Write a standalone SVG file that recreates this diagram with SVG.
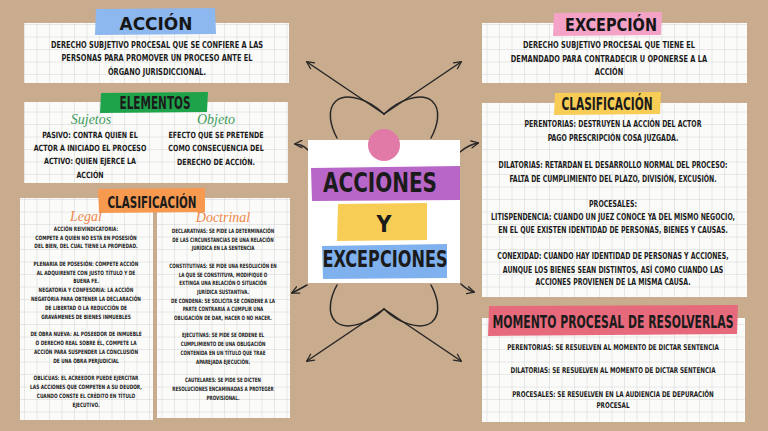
<svg xmlns="http://www.w3.org/2000/svg" width="768" height="431" viewBox="0 0 768 431">
<defs>
<pattern id="grid" width="12.5" height="12.5" patternUnits="userSpaceOnUse">
<rect width="12.5" height="12.5" fill="#fbfbfa"/>
<path d="M12.5 0V12.5M0 12.5H12.5" stroke="#c4c4c4" stroke-width="0.7" fill="none"/>
</pattern>
<marker id="ah" viewBox="0 0 10 10" refX="8.5" refY="5" markerWidth="6" markerHeight="6" orient="auto">
<path d="M1 1L9 5L1 9" fill="none" stroke="#262626" stroke-width="1.4" stroke-linecap="round" stroke-linejoin="round"/>
</marker>
</defs>
<style>
.b{font-family:"DejaVu Sans Condensed","DejaVu Sans",sans-serif;font-stretch:condensed;font-weight:bold;fill:#1b1b1b;text-anchor:middle}
.t{font-family:"DejaVu Sans","Liberation Sans",sans-serif;font-weight:bold;fill:#161616;text-anchor:middle}
.card{fill:url(#grid)}
.ln{fill:none;stroke:#262626;stroke-width:1.5;stroke-linecap:round}
.scr{font-family:"Liberation Serif","DejaVu Serif",serif;font-style:italic;text-anchor:middle;font-size:14px}
</style>
<rect width="768" height="431" fill="#c9ab8e"/>

<g id="connectors">
<path class="ln" d="M384 114L307 62" marker-end="url(#ah)"/>
<path class="ln" d="M384 114C370 100 347 92 336 101C326 110 331 127 337 138"/>
<path class="ln" d="M384 114L461 62" marker-end="url(#ah)"/>
<path class="ln" d="M384 114C398 100 421 92 432 101C442 110 437 127 431 138"/>
<path class="ln" d="M384 309L307 361" marker-end="url(#ah)"/>
<path class="ln" d="M384 309C370 323 347 331 336 322C326 313 331 296 337 285"/>
<path class="ln" d="M384 309L461 361" marker-end="url(#ah)"/>
<path class="ln" d="M384 309C398 323 421 331 432 322C442 313 437 296 431 285"/>
<path class="ln" d="M308 150Q302 144 295 144" marker-end="url(#ah)"/>
<path class="ln" d="M460 152Q468 145 478 143" marker-end="url(#ah)"/>
<path class="ln" d="M307 285Q300 289 292 293" marker-end="url(#ah)"/>
<path class="ln" d="M461 284Q467 290 474 292" marker-end="url(#ah)"/>
</g>

<g id="accion">
<rect class="card" x="24" y="23" width="265" height="60"/>
<path d="M96 9L215 8L216 34L95 35Z" fill="#8db7ef"/>
<text class="t" x="156" y="30" font-size="18" textLength="73" lengthAdjust="spacingAndGlyphs">ACCIÓN</text>
<g transform="translate(157 0) scale(0.82 1)" font-size="9">
<text class="b" x="0" y="48">DERECHO SUBJETIVO PROCESAL QUE SE CONFIERE A LAS</text>
<text class="b" x="0" y="61">PERSONAS PARA PROMOVER UN PROCESO ANTE EL</text>
<text class="b" x="0" y="75">ÓRGANO JURISDICCIONAL.</text>
</g>
</g>

<g id="elementos">
<rect class="card" x="24" y="102" width="264" height="81"/>
<path d="M101 93L208 92L207 112L100 113Z" fill="#1ea34b"/>
<text class="b" x="155" y="109" font-size="17" textLength="71" lengthAdjust="spacingAndGlyphs">ELEMENTOS</text>
<text class="scr" x="91" y="124" fill="#3d9b5c">Sujetos</text>
<text class="scr" x="216" y="124" fill="#3d9b5c">Objeto</text>
<g transform="translate(90 0) scale(0.83 1)" font-size="8.5">
<text class="b" x="0" y="138">PASIVO: CONTRA QUIEN EL</text>
<text class="b" x="0" y="151">ACTOR A INICIADO EL PROCESO</text>
<text class="b" x="0" y="164">ACTIVO: QUIEN EJERCE LA</text>
<text class="b" x="0" y="178">ACCIÓN</text>
</g>
<g transform="translate(216 0) scale(0.83 1)" font-size="8.5">
<text class="b" x="0" y="138">EFECTO QUE SE PRETENDE</text>
<text class="b" x="0" y="151">COMO CONSECUENCIA DEL</text>
<text class="b" x="0" y="165">DERECHO DE ACCIÓN.</text>
</g>
</g>

<g id="clasificacion-accion">
<rect class="card" x="20" y="198" width="133" height="222"/>
<rect class="card" x="157" y="198" width="133" height="220"/>
<path d="M98 189L205 188L205 212L99 213Z" fill="#f79a50"/>
<text class="b" x="152" y="208" font-size="15" textLength="89" lengthAdjust="spacingAndGlyphs">CLASIFICACIÓN</text>
<text class="scr" x="86" y="221" fill="#f0884a">Legal</text>
<text class="scr" x="223" y="222" fill="#f0884a">Doctrinal</text>
<g transform="translate(86 0) scale(0.8 1)" font-size="6">
<text class="b" x="0" y="231">ACCIÓN REIVINDICATORIA:</text>
<text class="b" x="0" y="240">COMPETE A QUIEN NO ESTÁ EN POSESIÓN</text>
<text class="b" x="0" y="248">DEL BIEN, DEL CUAL TIENE LA PROPIEDAD.</text>
<text class="b" x="0" y="266">PLENARIA DE POSESIÓN: COMPETE ACCIÓN</text>
<text class="b" x="0" y="275">AL ADQUIRENTE CON JUSTO TÍTULO Y DE</text>
<text class="b" x="0" y="283">BUENA FE.</text>
<text class="b" x="0" y="292">NEGATORIA Y CONFESORIA: LA ACCIÓN</text>
<text class="b" x="0" y="301">NEGATORIA PARA OBTENER LA DECLARACIÓN</text>
<text class="b" x="0" y="310">DE LIBERTAD O LA REDUCCIÓN DE</text>
<text class="b" x="0" y="319">GRAVÁMENES DE BIENES INMUEBLES</text>
<text class="b" x="0" y="336">DE OBRA NUEVA: AL POSEEDOR DE INMUEBLE</text>
<text class="b" x="0" y="345">O DERECHO REAL SOBRE ÉL, COMPETE LA</text>
<text class="b" x="0" y="354">ACCIÓN PARA SUSPENDER LA CONCLUSIÓN</text>
<text class="b" x="0" y="363">DE UNA OBRA PERJUDICIAL</text>
<text class="b" x="0" y="380">OBLICUAS: EL ACREEDOR PUEDE EJERCITAR</text>
<text class="b" x="0" y="389">LAS ACCIONES QUE COMPETEN A SU DEUDOR,</text>
<text class="b" x="0" y="398">CUANDO CONSTE EL CRÉDITO EN TÍTULO</text>
<text class="b" x="0" y="407">EJECUTIVO.</text>
</g>
<g transform="translate(223 0) scale(0.76 1)" font-size="6">
<text class="b" x="0" y="233">DECLARATIVAS: SE PIDE LA DETERMINACIÓN</text>
<text class="b" x="0" y="242">DE LAS CIRCUNSTANCIAS DE UNA RELACIÓN</text>
<text class="b" x="0" y="250">JURÍDICA EN LA SENTENCIA</text>
<text class="b" x="0" y="268">CONSTITUTIVAS: SE PIDE UNA RESOLUCIÓN EN</text>
<text class="b" x="0" y="277">LA QUE SE CONSTITUYA, MODIFIQUE O</text>
<text class="b" x="0" y="285">EXTINGA UNA RELACIÓN O SITUACIÓN</text>
<text class="b" x="0" y="294">JURÍDICA SUSTANTIVA.</text>
<text class="b" x="0" y="303">DE CONDENA: SE SOLICITA SE CONDENE A LA</text>
<text class="b" x="0" y="311">PARTE CONTRARIA A CUMPLIR UNA</text>
<text class="b" x="0" y="320">OBLIGACIÓN DE DAR, HACER O NO HACER.</text>
<text class="b" x="0" y="337">EJECUTIVAS: SE PIDE SE ORDENE EL</text>
<text class="b" x="0" y="346">CUMPLIMIENTO DE UNA OBLIGACIÓN</text>
<text class="b" x="0" y="355">CONTENIDA EN UN TÍTULO QUE TRAE</text>
<text class="b" x="0" y="364">APAREJADA EJECUCIÓN.</text>
<text class="b" x="0" y="382">CAUTELARES: SE PIDE SE DICTEN</text>
<text class="b" x="0" y="391">RESOLUCIONES ENCAMINADAS A PROTEGER</text>
<text class="b" x="0" y="400">PROVISIONAL.</text>
</g>
</g>

<g id="excepcion">
<rect class="card" x="482" y="23" width="265" height="60"/>
<path d="M554 13L662 12L661 35L553 36Z" fill="#f4a3c6"/>
<text class="t" x="611" y="31" font-size="17" textLength="92" lengthAdjust="spacingAndGlyphs">EXCEPCIÓN</text>
<g transform="translate(609 0) scale(0.82 1)" font-size="9">
<text class="b" x="0" y="48">DERECHO SUBJETIVO PROCESAL QUE TIENE EL</text>
<text class="b" x="0" y="62">DEMANDADO PARA CONTRADECIR U OPONERSE A LA</text>
<text class="b" x="0" y="75">ACCIÓN</text>
</g>
</g>

<g id="clasificacion-excepcion">
<rect class="card" x="482" y="103" width="265" height="194"/>
<path d="M555 93L661 92L660 114L554 115Z" fill="#f7cd55"/>
<text class="b" x="607" y="110" font-size="17" textLength="91" lengthAdjust="spacingAndGlyphs">CLASIFICACIÓN</text>
<g transform="translate(613 0) scale(0.77 1)" font-size="9">
<text class="b" x="0" y="127">PERENTORIAS: DESTRUYEN LA ACCIÓN DEL ACTOR</text>
<text class="b" x="0" y="141">PAGO PRESCRIPCIÓN COSA JUZGADA.</text>
<text class="b" x="0" y="168">DILATORIAS: RETARDAN EL DESARROLLO NORMAL DEL PROCESO:</text>
<text class="b" x="0" y="182">FALTA DE CUMPLIMIENTO DEL PLAZO, DIVISIÓN, EXCUSIÓN.</text>
<text class="b" x="0" y="207">PROCESALES:</text>
<text class="b" x="0" y="220">LITISPENDENCIA: CUANDO UN JUEZ CONOCE YA DEL MISMO NEGOCIO,</text>
<text class="b" x="0" y="233">EN EL QUE EXISTEN IDENTIDAD DE PERSONAS, BIENES Y CAUSAS.</text>
<text class="b" x="0" y="259">CONEXIDAD: CUANDO HAY IDENTIDAD DE PERSONAS Y ACCIONES,</text>
<text class="b" x="0" y="273">AUNQUE LOS BIENES SEAN DISTINTOS, ASÍ COMO CUANDO LAS</text>
<text class="b" x="0" y="285">ACCIONES PROVIENEN DE LA MISMA CAUSA.</text>
</g>
</g>

<g id="momento">
<rect class="card" x="482" y="318" width="263" height="104"/>
<path d="M489 306L738 305L737 334L488 336Z" fill="#e66a7b"/>
<g transform="translate(613 0) scale(0.67 1)">
<text class="b" x="0" y="328" font-size="18">MOMENTO PROCESAL DE RESOLVERLAS</text>
</g>
<g transform="translate(613 0) scale(0.78 1)" font-size="8">
<text class="b" x="0" y="350">PERENTORIAS: SE RESUELVEN AL MOMENTO DE DICTAR SENTENCIA</text>
<text class="b" x="0" y="373">DILATORIAS: SE RESUELVEN AL MOMENTO DE DICTAR SENTENCIA</text>
<text class="b" x="0" y="397">PROCESALES: SE RESUELVEN EN LA AUDIENCIA DE DEPURACIÓN</text>
<text class="b" x="0" y="408">PROCESAL</text>
</g>
</g>

<g id="centro">
<rect x="308" y="140" width="152" height="143" fill="#ffffff"/>
<circle cx="384" cy="145" r="16" fill="#e27aa8"/>
<path d="M311 168L460 166L460 200L312 201Z" fill="#b866c8"/>
<path d="M338 204L427 203L427 240L337 241Z" fill="#f8cd55"/>
<path d="M322 246L447 244L447 278L323 279Z" fill="#7fb1ee"/>
<text class="b" x="380" y="192" font-size="27" textLength="114" lengthAdjust="spacingAndGlyphs">ACCIONES</text>
<text class="b" x="384" y="232" font-size="23">Y</text>
<text class="b" x="385" y="267" font-size="23" textLength="125" lengthAdjust="spacingAndGlyphs">EXCEPCIONES</text>
</g>
</svg>
